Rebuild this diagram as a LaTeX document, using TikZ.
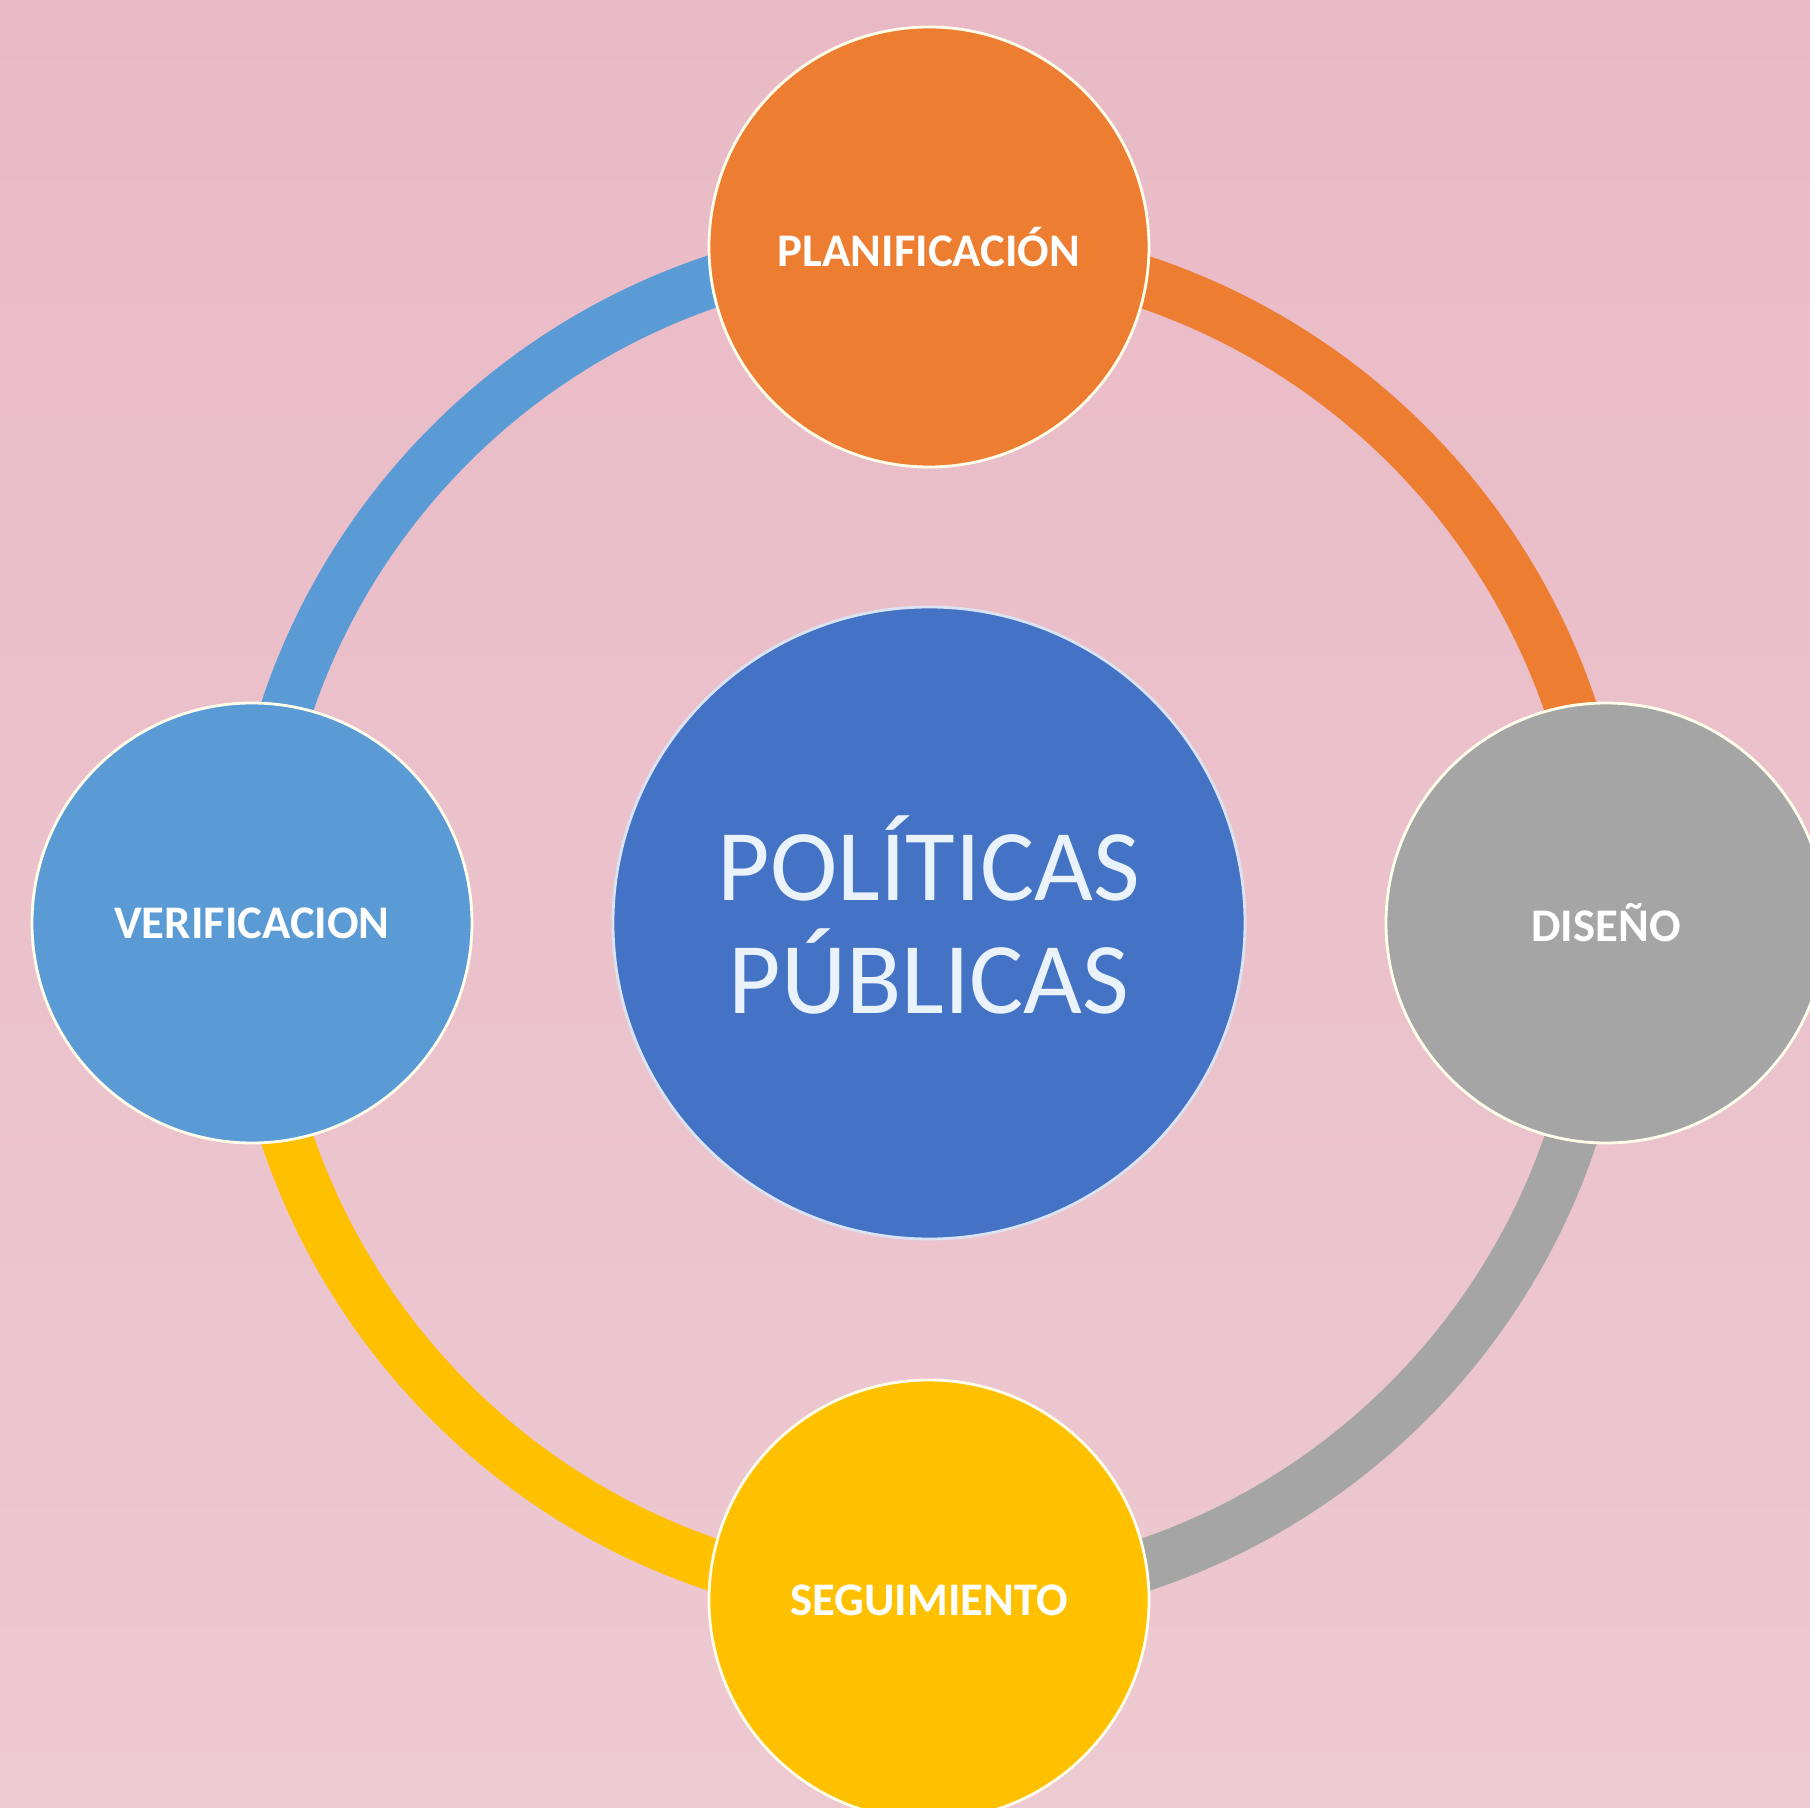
\documentclass[tikz,border=0pt]{standalone}
\usepackage{fontspec}
\setmainfont{Carlito}
\usetikzlibrary{backgrounds}

\definecolor{bgtop}{HTML}{E9BAC6}
\definecolor{bgbottom}{HTML}{EDC9D1}
\definecolor{planorange}{HTML}{ED7D31}
\definecolor{disgray}{HTML}{A5A5A5}
\definecolor{segyellow}{HTML}{FFC000}
\definecolor{verblue}{HTML}{5B9BD5}
\definecolor{coreblue}{HTML}{4472C4}
\definecolor{coretext}{HTML}{EAF3FC}

\tikzset{
  phase/.style={circle, draw=white!92!yellow, line width=0.8pt, minimum size=4.4cm,
    inner sep=0pt, text=white, font=\bfseries\fontsize{13.3}{15}\selectfont},
  core/.style={circle, draw=white!80!coreblue, line width=0.8pt, minimum size=6.32cm,
    inner sep=0pt, fill=coreblue, text=coretext, align=center,
    font=\fontsize{28.9}{32}\selectfont},
  ringarc/.style={line width=0.52cm}
}

\begin{document}
\begin{tikzpicture}
  \useasboundingbox (-9.29,-8.84) rectangle (8.81,9.23);

  \node[core] (pp) at (0,0) {};
  \node[align=center, text=coretext, font=\fontsize{28.9}{32}\selectfont] (pptext) at (0,0.08) {POLÍTICAS\\PÚBLICAS};
  \node[phase, fill=planorange] (plan) at (90:6.76) {PLANIFICACIÓN};
  \node[phase, fill=disgray] (dis) at (0:6.77) {DISEÑO};
  \node[phase, fill=segyellow] (seg) at (270:6.77) {SEGUIMIENTO};
  \node[phase, fill=verblue] (ver) at (180:6.77) {VERIFICACION};

  \begin{pgfonlayer}{background}
    \shade[top color=bgtop, bottom color=bgbottom] (-9.29,-8.84) rectangle (8.81,9.23);
    % ring segments between the phases
    \draw[ringarc, verblue] (ver.center) arc[start angle=180, end angle=90, radius=6.77cm];
    \draw[ringarc, planorange] (plan.center) arc[start angle=90, end angle=0, radius=6.77cm];
    \draw[ringarc, disgray] (dis.center) arc[start angle=0, end angle=-90, radius=6.77cm];
    \draw[ringarc, segyellow] (seg.center) arc[start angle=270, end angle=180, radius=6.77cm];
  \end{pgfonlayer}
\end{tikzpicture}
\end{document}
